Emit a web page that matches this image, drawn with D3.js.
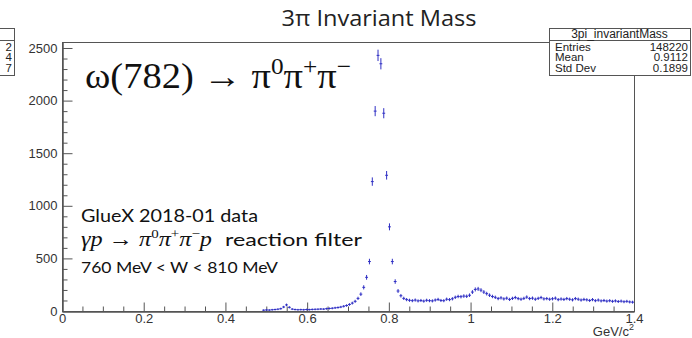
<!DOCTYPE html>
<html>
<head>
<meta charset="utf-8">
<script src="https://cdn.jsdelivr.net/npm/d3@7/dist/d3.min.js"></script>
<style>
  body { margin: 0; background: #fff; }
  svg { display: block; }
</style>
</head>
<body>
<div id="graphic"></div>
<script>
var width = 692;
var height = 338;
var frame = { left: 62, right: 634, top: 42, bottom: 311 };

// histogram: 200 bins from 0 to 1.4, first filled bin is #70
var binWidth = 0.007;
var firstBin = 70;
var counts = [
  8, 10, 9, 12, 14, 17, 22, 38, 58, 35,
  18, 14, 12, 13, 12, 14, 13, 15, 16, 17,
  19, 18, 22, 24, 26, 30, 33, 38, 45, 52,
  62, 75, 92, 120, 160, 225, 320, 470, 1230, 1900,
  2430, 2350, 1880, 1290, 800, 470, 280, 190, 145, 120,
  108, 102, 98, 104, 96, 100, 94, 102, 98, 96,
  104, 110, 100, 98, 112, 108, 116, 130, 138, 136,
  142, 140, 150, 180, 205, 210, 198, 180, 165, 150,
  138, 130, 118, 125, 115, 122, 110, 120, 128, 118,
  112, 120, 132, 118, 122, 112, 120, 128, 115, 118,
  112, 116, 122, 108, 114, 110, 118, 112, 106, 118,
  112, 104, 110, 106, 100, 108, 98, 104, 96, 100,
  94, 98, 92, 96, 90, 94, 88, 92, 86, 84
];

var xMajorTicks = [0, 0.2, 0.4, 0.6, 0.8, 1, 1.2, 1.4];
var xMinorTicks = [0.05, 0.1, 0.15, 0.25, 0.3, 0.35, 0.45, 0.5, 0.55, 0.65, 0.7, 0.75,
                   0.85, 0.9, 0.95, 1.05, 1.1, 1.15, 1.25, 1.3, 1.35];
var yMajorTicks = [0, 500, 1000, 1500, 2000, 2500];
var yMinorTicks = [100, 200, 300, 400, 600, 700, 800, 900, 1100, 1200, 1300, 1400,
                   1600, 1700, 1800, 1900, 2100, 2200, 2300, 2400];
var yMax = 2557;

var title = "3\u03c0 Invariant Mass";
var statsTitle = "3pi_invariantMass";
var statsNames = ["Entries", "Mean", "Std Dev"];
var statsValues = ["148220", "0.9112", "0.1899"];
var leftBoxValues = ["2", "4", "7"];
var xUnit = "GeV/c";

var markColor = "#2f2fc4";
var lineColor = "#555";
var helv = "'Liberation Sans', Arial, sans-serif";
var serif = "'Liberation Serif', 'Times New Roman', serif";
var sans = "'Lato', 'Open Sans', sans-serif";

var svg = d3.select("#graphic").append("svg")
  .attr("width", width)
  .attr("height", height);

var xScale = d3.scaleLinear().domain([0, 1.4]).range([frame.left, frame.right]);
var yScale = d3.scaleLinear().domain([0, yMax]).range([frame.bottom, frame.top]);

// frame
svg.append("rect")
  .attr("x", frame.left + 0.5)
  .attr("y", frame.top + 0.5)
  .attr("width", frame.right - frame.left)
  .attr("height", frame.bottom - frame.top)
  .attr("fill", "none")
  .attr("stroke", lineColor);

// axes, ROOT style: ticks inside the frame
svg.append("g")
  .attr("transform", "translate(0," + (frame.bottom + 0.5) + ")")
  .call(d3.axisBottom(xScale).tickValues(xMajorTicks).tickSizeInner(-9).tickSizeOuter(0)
    .tickPadding(2).tickFormat(d3.format("")));
svg.append("g")
  .attr("transform", "translate(0," + (frame.bottom + 0.5) + ")")
  .call(d3.axisBottom(xScale).tickValues(xMinorTicks).tickSizeInner(-5).tickSizeOuter(0)
    .tickFormat(""));

svg.append("g")
  .attr("transform", "translate(" + (frame.left + 0.5) + ",0)")
  .call(d3.axisLeft(yScale).tickValues(yMajorTicks).tickSizeInner(-10).tickSizeOuter(0)
    .tickPadding(5).tickFormat(d3.format("")));
svg.append("g")
  .attr("transform", "translate(" + (frame.left + 0.5) + ",0)")
  .call(d3.axisLeft(yScale).tickValues(yMinorTicks).tickSizeInner(-5).tickSizeOuter(0)
    .tickFormat(""));

svg.selectAll(".domain").attr("stroke", lineColor);
svg.selectAll(".tick line").attr("stroke", lineColor);
svg.selectAll(".tick text")
  .attr("font-family", helv)
  .attr("font-size", 13)
  .attr("fill", "#333");

svg.append("text")
  .attr("x", frame.right)
  .attr("y", 336)
  .attr("text-anchor", "end")
  .attr("font-family", helv)
  .attr("font-size", 13)
  .attr("fill", "#333")
  .text(xUnit)
  .append("tspan").attr("dy", -6).attr("font-size", 9).text("2");

// histogram points with error bars
var bins = counts.map(function(c, i) {
  var lo = (firstBin + i) * binWidth;
  return { lo: lo, hi: lo + binWidth, mid: lo + binWidth / 2, n: c, err: Math.sqrt(c) };
});

var pts = svg.append("g")
  .attr("stroke", markColor)
  .attr("stroke-width", 1);

pts.selectAll("line.h")
  .data(bins)
  .join("line")
  .attr("class", "h")
  .attr("x1", d => xScale(d.lo))
  .attr("x2", d => xScale(d.hi))
  .attr("y1", d => yScale(d.n))
  .attr("y2", d => yScale(d.n));

pts.selectAll("line.v")
  .data(bins)
  .join("line")
  .attr("class", "v")
  .attr("x1", d => xScale(d.mid))
  .attr("x2", d => xScale(d.mid))
  .attr("y1", d => yScale(d.n - d.err) + 0.5)
  .attr("y2", d => yScale(d.n + d.err) - 0.5);

// title
svg.append("text")
  .attr("x", 379)
  .attr("y", 26)
  .attr("text-anchor", "middle")
  .attr("font-family", "'Open Sans', 'DejaVu Sans', sans-serif")
  .attr("font-size", 21)
  .attr("fill", "#222")
  .attr("textLength", 195)
  .attr("lengthAdjust", "spacingAndGlyphs")
  .text(title);

// stats box (right)
var sb = { x: 549, y: 28, w: 141, h: 47, head: 12, row: 10.8 };
var stats = svg.append("g");
stats.append("rect")
  .attr("x", sb.x + 0.5).attr("y", sb.y + 0.5)
  .attr("width", sb.w).attr("height", sb.h)
  .attr("fill", "#fff").attr("stroke", lineColor);
stats.append("line")
  .attr("x1", sb.x).attr("x2", sb.x + sb.w)
  .attr("y1", sb.y + sb.head + 0.5).attr("y2", sb.y + sb.head + 0.5)
  .attr("stroke", lineColor);
stats.append("text")
  .attr("x", sb.x + sb.w / 2).attr("y", sb.y + 10)
  .attr("text-anchor", "middle")
  .attr("font-family", helv)
  .attr("font-size", 12).attr("fill", "#222")
  .text(statsTitle);
statsNames.forEach(function(name, i) {
  stats.append("text")
    .attr("x", sb.x + 6).attr("y", sb.y + 22.5 + i * sb.row)
    .attr("font-family", helv)
    .attr("font-size", 11.5).attr("fill", "#222")
    .text(name);
  stats.append("text")
    .attr("x", sb.x + sb.w - 2).attr("y", sb.y + 22.5 + i * sb.row)
    .attr("text-anchor", "end")
    .attr("font-family", helv)
    .attr("font-size", 11.5).attr("fill", "#222")
    .text(statsValues[i]);
});

// cut-off stats box of the neighbouring pad (left edge)
var lb = { x: -30, y: 28, w: 44, h: 47, head: 12, row: 10.8 };
var lbox = svg.append("g");
lbox.append("rect")
  .attr("x", lb.x + 0.5).attr("y", lb.y + 0.5)
  .attr("width", lb.w).attr("height", lb.h)
  .attr("fill", "#fff").attr("stroke", lineColor);
lbox.append("line")
  .attr("x1", 0).attr("x2", lb.x + lb.w)
  .attr("y1", lb.y + lb.head + 0.5).attr("y2", lb.y + lb.head + 0.5)
  .attr("stroke", lineColor);
leftBoxValues.forEach(function(v, i) {
  lbox.append("text")
    .attr("x", lb.x + lb.w - 2).attr("y", lb.y + 22.5 + i * lb.row)
    .attr("text-anchor", "end")
    .attr("font-family", helv)
    .attr("font-size", 11.5).attr("fill", "#222")
    .text(v);
});

// omega decay label
var om = svg.append("text")
  .attr("x", 85).attr("y", 88)
  .attr("font-family", serif)
  .attr("font-size", 35)
  .attr("fill", "#111")
  .attr("textLength", 266)
  .attr("lengthAdjust", "spacingAndGlyphs");
om.append("tspan").text("\u03c9(782) \u2192 \u03c0");
om.append("tspan").attr("dy", -14).attr("font-size", 23).text("0");
om.append("tspan").attr("dy", 14).text("\u03c0");
om.append("tspan").attr("dy", -14).attr("font-size", 23).text("+");
om.append("tspan").attr("dy", 14).text("\u03c0");
om.append("tspan").attr("dy", -14).attr("font-size", 23).text("\u2212");

// data description
svg.append("text")
  .attr("x", 81).attr("y", 222)
  .attr("font-family", sans).attr("font-size", 17.5).attr("fill", "#111")
  .attr("textLength", 177).attr("lengthAdjust", "spacingAndGlyphs")
  .text("GlueX 2018-01 data");

var rx = svg.append("text")
  .attr("x", 81).attr("y", 246)
  .attr("font-family", serif).attr("font-size", 21).attr("font-style", "italic")
  .attr("fill", "#111")
  .attr("textLength", 131)
  .attr("lengthAdjust", "spacingAndGlyphs");
rx.append("tspan").text("\u03b3p ");
rx.append("tspan").attr("font-style", "normal").text("\u2192 ");
rx.append("tspan").text("\u03c0");
rx.append("tspan").attr("dy", -8).attr("font-size", 13).attr("font-style", "normal").text("0");
rx.append("tspan").attr("dy", 8).text("\u03c0");
rx.append("tspan").attr("dy", -8).attr("font-size", 13).attr("font-style", "normal").text("+");
rx.append("tspan").attr("dy", 8).text("\u03c0");
rx.append("tspan").attr("dy", -8).attr("font-size", 13).attr("font-style", "normal").text("\u2212");
rx.append("tspan").attr("dy", 8).text("p");
svg.append("text")
  .attr("x", 225).attr("y", 246)
  .attr("font-family", sans).attr("font-size", 17.5).attr("fill", "#111")
  .attr("textLength", 137).attr("lengthAdjust", "spacingAndGlyphs")
  .text("reaction filter");

svg.append("text")
  .attr("x", 81).attr("y", 273)
  .attr("font-family", sans).attr("font-size", 15).attr("fill", "#111")
  .attr("textLength", 197).attr("lengthAdjust", "spacingAndGlyphs")
  .text("760 MeV < W < 810 MeV");
</script>
</body>
</html>
